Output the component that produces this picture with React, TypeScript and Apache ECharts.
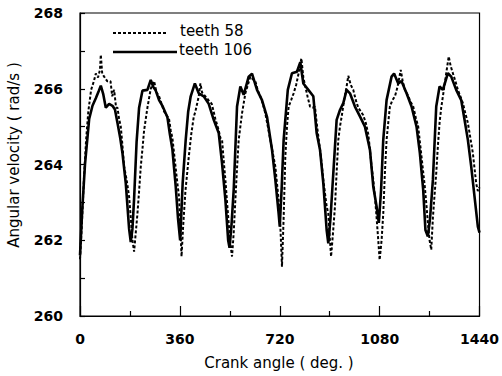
import React, { useEffect, useRef } from "react";
import * as echarts from "echarts";

const xTicks = [0, 360, 720, 1080, 1440];
const yRange = [260, 268];
const seriesNames = ["teeth 58", "teeth 106"];
const xTitle = "Crank angle ( deg. )";
const yTitle = "Angular velocity ( rad/s )";

const teeth106: [number, number][] = [
  [0, 261.6], [8, 262.8], [18, 264.0], [33, 265.2], [45, 265.55], [57, 265.75], [68, 265.95], [75, 266.08],
  [84, 265.85], [93, 265.5], [105, 265.6], [117, 265.55], [126, 265.45], [135, 265.1], [145, 264.7], [153, 264.3],
  [165, 263.5], [177, 262.3], [183, 261.95], [189, 262.3], [195, 263.1], [204, 264.6], [213, 265.5], [225, 265.95],
  [243, 265.97], [255, 266.23], [264, 266.05], [273, 265.95], [285, 265.7], [297, 265.55], [306, 265.4], [315, 265.25],
  [324, 264.8], [333, 264.4], [345, 263.42], [353, 262.6], [361, 262.0],
  [370, 263.5], [381, 264.65], [390, 265.4], [399, 265.8], [414, 266.14], [428, 265.88], [446, 265.8], [464, 265.6],
  [482, 265.18], [500, 264.83], [512, 264.03], [524, 263.07], [534, 262.0], [539, 261.8],
  [546, 262.4], [554, 263.33], [566, 265.53], [578, 266.06], [590, 265.84], [608, 266.32], [620, 266.4], [638, 265.97],
  [656, 265.7], [674, 265.26], [692, 264.39], [704, 263.6], [716, 262.7], [720, 262.36],
  [727, 263.4], [734, 264.65], [749, 265.97], [764, 266.41], [782, 266.45], [794, 266.7], [805, 266.14], [823, 265.97],
  [841, 265.8], [853, 264.83], [865, 264.39], [877, 263.5], [889, 262.27], [895, 261.92],
  [903, 262.6], [913, 263.77], [925, 265.18], [937, 265.44], [949, 265.62], [961, 265.97], [973, 265.88], [991, 265.53],
  [1009, 265.27], [1027, 265.0], [1045, 264.39], [1057, 263.42], [1069, 262.89], [1077, 262.46],
  [1085, 263.3], [1093, 264.65], [1105, 265.7], [1123, 266.32], [1132, 266.4], [1147, 266.14], [1159, 266.2], [1177, 265.88],
  [1195, 265.53], [1213, 265.0], [1225, 264.3], [1237, 263.33], [1245, 262.27], [1254, 262.1],
  [1262, 262.6], [1272, 263.6], [1284, 265.53], [1296, 266.06], [1308, 265.97], [1326, 266.41], [1338, 266.32], [1356, 265.97],
  [1374, 265.7], [1386, 265.18], [1398, 264.65], [1410, 263.95], [1422, 263.15], [1434, 262.36], [1440, 262.2],
];

const teeth58: [number, number][] = [
  [0, 261.5], [6, 262.3], [14, 263.6], [22, 264.65], [30, 265.4], [40, 265.97], [50, 266.2], [57, 266.4],
  [65, 266.3], [72, 266.5], [75, 266.9], [80, 266.4], [87, 266.32], [98, 266.2], [110, 266.2], [116, 265.8],
  [123, 265.97], [130, 265.5], [135, 265.5], [141, 265.2], [147, 265.0], [153, 264.5], [159, 263.95], [168, 263.6],
  [177, 263.15], [183, 262.6], [189, 262.0], [195, 261.7], [201, 262.2], [207, 262.7], [213, 263.3], [219, 263.94],
  [225, 264.4], [231, 264.9], [243, 265.5], [255, 266.0], [261, 266.1], [267, 266.2], [276, 265.9], [285, 265.8],
  [294, 265.6], [303, 265.4], [312, 265.3], [321, 265.2], [327, 264.9], [333, 264.7], [339, 264.3], [345, 263.9],
  [351, 263.5], [357, 263.15], [362, 262.3], [366, 261.57],
  [372, 262.4], [380, 263.3], [392, 264.2], [401, 264.8], [410, 265.26], [416, 265.4], [422, 265.6], [428, 265.8],
  [434, 266.14], [440, 265.9], [452, 265.8], [463, 265.7], [475, 265.6], [488, 265.2], [500, 264.9], [506, 264.7],
  [512, 264.65], [518, 264.1], [524, 263.6], [530, 263.0], [536, 262.45], [542, 261.9], [548, 261.57],
  [554, 262.2], [560, 263.07], [566, 263.9], [572, 264.65], [584, 265.35], [596, 265.88], [605, 266.1], [614, 266.32],
  [623, 266.25], [632, 266.2], [641, 265.95], [650, 265.8], [659, 265.6], [668, 265.35], [677, 265.0], [686, 264.65],
  [695, 264.3], [704, 263.95], [710, 263.5], [716, 263.07], [722, 262.4], [728, 261.3],
  [734, 262.6], [740, 264.2], [746, 265.0], [752, 265.53], [761, 265.7], [770, 265.88], [779, 266.1], [788, 266.41],
  [798, 266.8], [805, 266.3], [812, 266.06], [820, 265.8], [829, 265.53], [838, 265.5], [847, 265.53], [853, 265.1],
  [859, 264.74], [865, 264.4], [871, 264.03], [877, 263.6], [883, 263.24], [889, 262.9], [895, 262.7], [900, 262.1],
  [905, 261.57],
  [912, 262.2], [919, 262.89], [925, 263.8], [931, 264.65], [937, 265.0], [943, 265.26], [952, 265.7], [961, 266.06],
  [967, 266.34], [976, 266.1], [985, 265.97], [994, 265.7], [1003, 265.5], [1012, 265.4], [1021, 265.3], [1030, 265.1],
  [1039, 264.8], [1045, 264.4], [1051, 263.95], [1057, 263.6], [1063, 263.15], [1069, 262.6], [1075, 262.0], [1080, 261.48],
  [1087, 262.0], [1093, 262.7], [1099, 263.8], [1105, 264.65], [1111, 265.1], [1117, 265.53], [1126, 265.7], [1135, 265.8],
  [1141, 265.95], [1147, 266.14], [1156, 266.5], [1163, 266.2], [1171, 265.97], [1177, 265.9], [1183, 265.8], [1192, 265.65],
  [1201, 265.53], [1210, 265.25], [1219, 265.0], [1225, 264.6], [1231, 264.2], [1237, 263.8], [1243, 263.4], [1249, 262.9],
  [1254, 262.45], [1260, 262.0], [1266, 261.75],
  [1272, 262.6], [1278, 263.2], [1284, 263.77], [1290, 264.5], [1296, 265.1], [1302, 265.5], [1308, 265.8], [1314, 266.1],
  [1320, 266.41], [1329, 266.85], [1336, 266.6], [1344, 266.41], [1353, 266.2], [1362, 265.97], [1371, 265.8], [1380, 265.62],
  [1389, 265.35], [1398, 265.1], [1407, 264.7], [1416, 264.3], [1422, 263.9], [1428, 263.5], [1434, 263.3], [1440, 263.4],
];

const FONT = "'DejaVu Sans', 'Liberation Sans', Arial, sans-serif";
const DASH = [3, 2];

export default function App() {
  const ref = useRef<HTMLDivElement>(null);
  useEffect(() => {
    if (!ref.current) return;
    const chart = echarts.init(ref.current, null, { renderer: "svg" });
    const titleFont = `normal 15px ${FONT}`;
    chart.setOption({
      animation: false,
      backgroundColor: "#fff",
      textStyle: { fontFamily: FONT, color: "#000" },
      grid: {
        left: 80, right: 21, top: 13, bottom: 60,
        show: true, borderColor: "#000", borderWidth: 1.2,
      },
      graphic: [
        {
          type: "line", shape: { x1: 113, y1: 33, x2: 168, y2: 33 },
          style: { stroke: "#000", lineWidth: 2, lineDash: DASH },
        },
        {
          type: "text", x: 180, y: 31,
          style: { text: seriesNames[0], font: titleFont, fill: "#000", align: "left", verticalAlign: "middle" },
        },
        {
          type: "line", shape: { x1: 113, y1: 52, x2: 177, y2: 52 },
          style: { stroke: "#000", lineWidth: 2.6 },
        },
        {
          type: "text", x: 179, y: 50,
          style: { text: seriesNames[1], font: titleFont, fill: "#000", align: "left", verticalAlign: "middle" },
        },
        {
          type: "text", x: 279, y: 363,
          style: { text: xTitle, font: titleFont, fill: "#000", align: "center", verticalAlign: "middle" },
        },
        {
          type: "text", x: 13.5, y: 155, rotation: Math.PI / 2,
          style: { text: yTitle, font: titleFont, fill: "#000", align: "center", verticalAlign: "middle" },
        },
      ],
      xAxis: {
        type: "value", min: xTicks[0], max: xTicks[xTicks.length - 1], interval: 360,
        axisLine: { lineStyle: { color: "#000", width: 1.2 } },
        axisTick: { inside: true, length: 10, lineStyle: { color: "#000", width: 1.2 } },
        minorTick: { show: true, splitNumber: 2, length: 5, lineStyle: { color: "#000", width: 1.2 } },
        splitLine: { show: false },
        axisLabel: {
          margin: 16, fontFamily: FONT, fontSize: 14, fontWeight: "bold", color: "#000",
          formatter: (v: number) => String(v),
        },
      },
      yAxis: {
        type: "value", min: yRange[0], max: yRange[1], interval: 2,
        axisLine: { show: true, lineStyle: { color: "#000", width: 1.2 } },
        axisTick: { show: true, inside: true, length: 5, lineStyle: { color: "#000", width: 1.2 } },
        minorTick: { show: true, splitNumber: 2, length: 5, lineStyle: { color: "#000", width: 1.2 } },
        splitLine: { show: false },
        axisLabel: {
          margin: 17, fontFamily: FONT, fontSize: 14, fontWeight: "bold", color: "#000",
          formatter: (v: number) => String(v),
        },
      },
      series: [
        {
          name: seriesNames[0], type: "line", data: teeth58, showSymbol: false, symbol: "none",
          lineStyle: { color: "#000", width: 2, type: DASH },
        },
        {
          name: seriesNames[1], type: "line", data: teeth106, showSymbol: false, symbol: "none",
          lineStyle: { color: "#000", width: 2.6 },
        },
      ],
    });
    return () => chart.dispose();
  }, []);
  return (
    <div
      ref={ref}
      style={{ position: "absolute", left: 0, top: 0, width: 502, height: 376 }}
    />
  );
}
